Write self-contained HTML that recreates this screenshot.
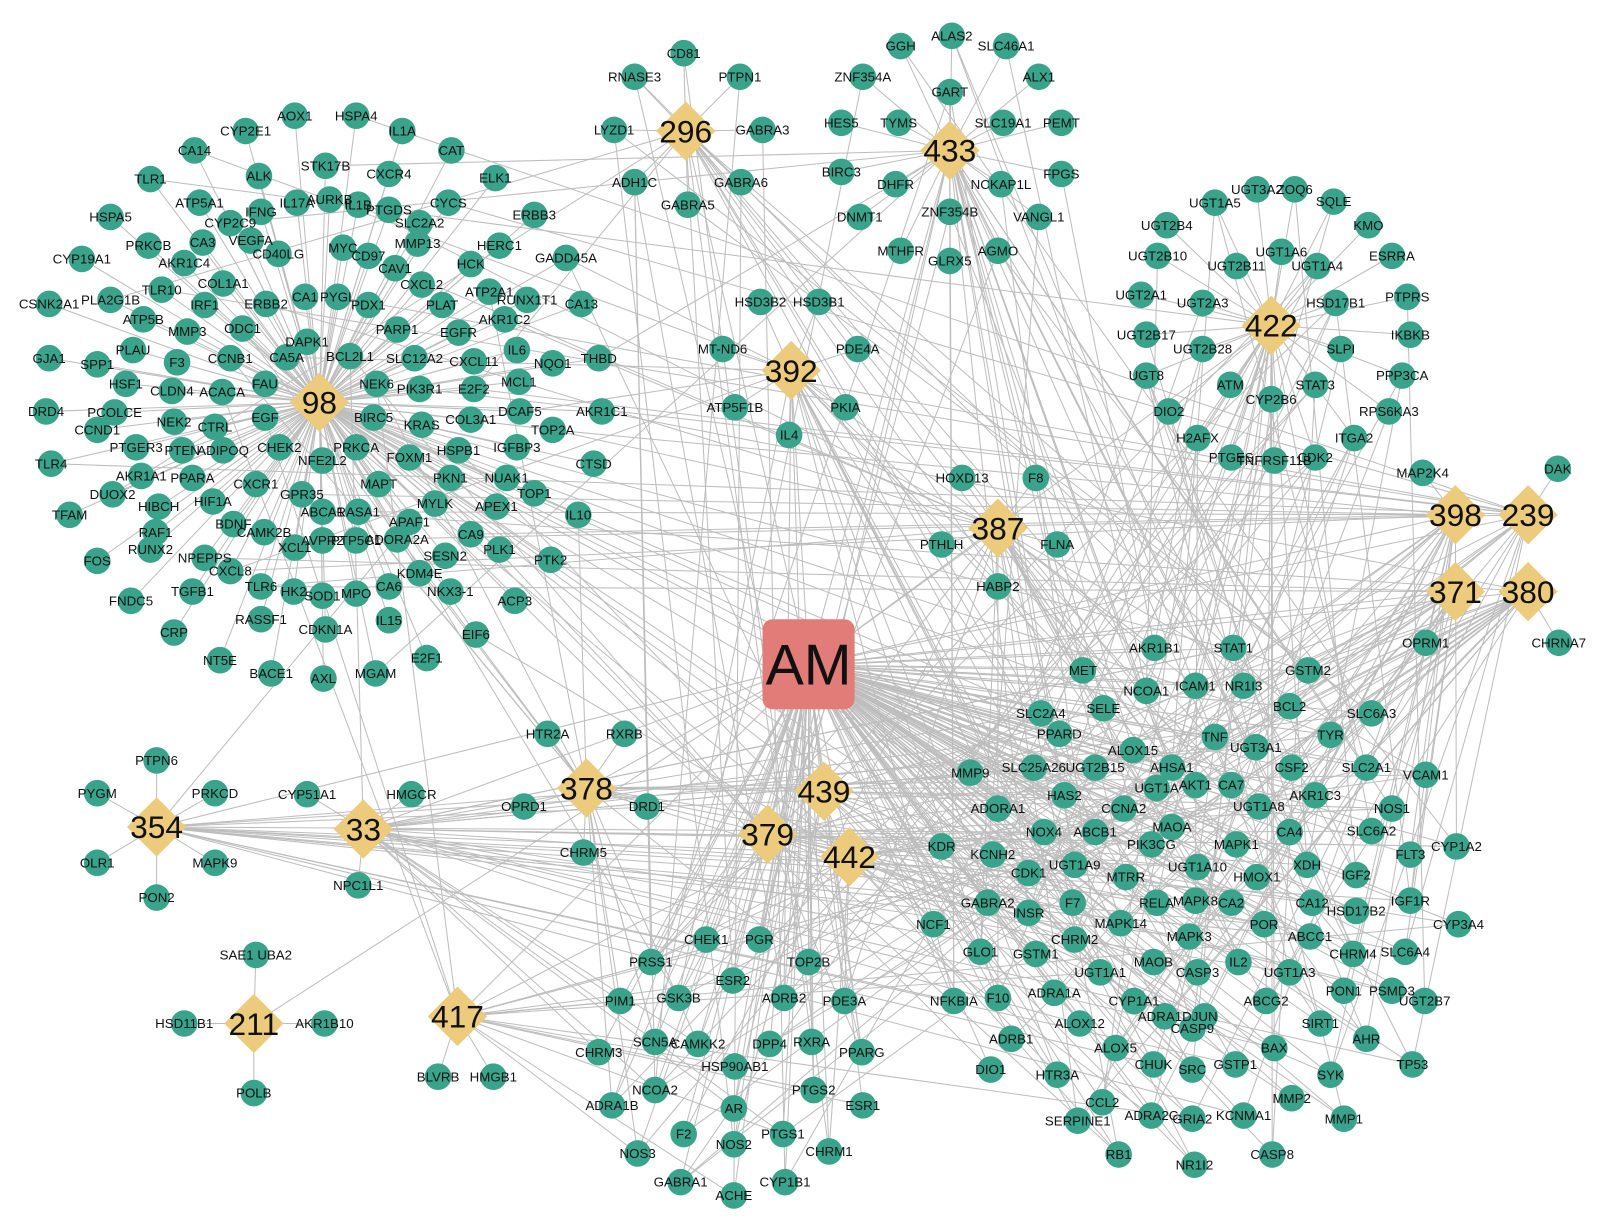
<!DOCTYPE html>
<html><head><meta charset="utf-8">
<style>
html,body{margin:0;padding:0;background:#fff;}
svg{display:block;}
text{font-family:"Liberation Sans",Arial,sans-serif;fill:#111;}
</style></head>
<body>
<svg id="s" width="1603" height="1227" viewBox="0 0 1603 1227" xmlns="http://www.w3.org/2000/svg">
<g transform="scale(1.0235)">
<g id="edges" stroke="#bdbdbd" stroke-width="1" fill="none"></g>
<g id="nodes"></g>
</g>
</svg>
<script>
const hubs={
"98":[312,393],"296":[670,128],"433":[928,147],"392":[773,362],"422":[1242,318],"387":[975,516],
"398":[1422,503],"239":[1493,503],"371":[1422,578],"380":[1493,578],"354":[153,808],"33":[355,810],
"211":[248,1000],"417":[447,993],"378":[573,770],"439":[805,773],"379":[750,815],"442":[830,837]};
const AM=[790,650];
const groups={
"98":`HSPA4 348 113;AOX1 288 113;CYP2E1 240 128;IL1A 393 128;CAT 441 147;CA14 190 147;STK17B 318 162;CXCR4 380 170;ALK 253 172;ELK1 484 174;TLR1 147 175;IL17A 290 198;AURKB 322 195;IL1B 350 200;PTGDS 380 205;CYCS 438 198;ATP5A1 195 198;IFNG 255 207;CYP2C9 225 218;SLC2A2 410 218;ERBB3 522 210;HSPA5 108 212;CA3 198 237;VEGFA 245 235;MMP13 408 238;HERC1 488 240;PRKCB 145 240;CD40LG 272 248;MYC 335 242;CD97 360 250;CAV1 386 262;GADD45A 553 252;CYP19A1 80 253;AKR1C4 180 257;HCK 460 258;CXCL2 412 278;COL1A1 218 277;TLR10 158 283;PYGL 330 290;CA1 298 290;PDX1 360 298;ATP2A1 478 285;RUNX1T1 515 293;CA13 568 297;CSNK2A1 48 297;PLA2G1B 108 293;ATP5B 140 312;IRF1 200 298;ERBB2 260 297;PLAT 432 298;AKR1C2 493 312;PARP1 388 322;MMP3 183 324;ODC1 237 321;EGFR 448 325;GJA1 48 350;SPP1 95 356;PLAU 130 342;DAPK1 300 334;CCNB1 225 350;CA5A 280 349;BCL2L1 342 348;SLC12A2 405 350;CXCL11 463 353;IL6 505 342;NQO1 540 355;THBD 585 350;F3 173 354;HSF1 123 375;NEK6 368 375;MCL1 507 373;CLDN4 168 382;ACACA 217 383;FAU 259 375;PIK3R1 410 380;E2F2 463 380;DRD4 45 402;PCOLCE 112 403;EGF 259 408;BIRC5 365 408;DCAF5 508 402;AKR1C1 588 402;CCND1 95 420;NEK2 170 412;CTRL 210 417;KRAS 412 415;COL3A1 460 410;TOP2A 540 420;PTGER3 133 437;PTEN 178 440;ADIPOQ 218 440;CHEK2 273 437;PRKCA 348 437;HSPB1 448 440;IGFBP3 505 437;TLR4 50 453;NFE2L2 315 450;FOXM1 400 447;CTSD 580 453;AKR1A1 138 465;PPARA 188 467;CXCR1 250 473;MAPT 370 473;PKN1 440 467;NUAK1 495 467;DUOX2 110 483;GPR35 295 483;HIF1A 208 490;RASA1 350 500;MYLK 425 492;APEX1 485 495;TOP1 522 482;TFAM 68 503;HIBCH 155 495;ABCA1 315 500;APAF1 400 510;IL10 565 503;RAF1 152 520;BDNF 228 512;CAMK2B 258 520;AVPR2 315 528;XCL1 288 535;PTP5C1 348 528;ADORA2A 388 527;CA9 460 522;PLK1 488 537;FOS 95 548;RUNX2 147 537;NPEPPS 200 545;SESN2 435 543;PTK2 538 547;CXCL8 225 558;TLR6 255 573;HK2 287 578;SOD1 315 582;MPO 348 580;KDM4E 410 560;CA6 380 573;NKX3-1 440 578;ACP3 503 587;FNDC5 128 587;TGFB1 188 578;EIF6 465 620;IL15 380 606;RASSF1 255 605;CDKN1A 318 615;CRP 170 618;NT5E 215 645;BACE1 265 658;AXL 316 663;MGAM 367 658;E2F1 417 643`,
"296":`CD81 668 52;RNASE3 620 75;PTPN1 723 75;LYZD1 600 127;GABRA3 745 127;ADH1C 620 178;GABRA6 724 178;GABRA5 672 200`,
"433":`ALAS2 930 35;GGH 880 45;SLC46A1 983 45;ZNF354A 843 75;ALX1 1015 75;GART 928 90;HES5 822 120;TYMS 878 120;SLC19A1 980 120;PEMT 1037 120;BIRC3 822 168;DHFR 875 180;NCKAP1L 978 180;FPGS 1037 170;DNMT1 840 212;ZNF354B 928 207;VANGL1 1015 212;MTHFR 880 245;GLRX5 928 255;AGMO 975 245`,
"392":`HSD3B2 743 295;HSD3B1 800 295;MT-ND6 706 341;PDE4A 838 341;ATP5F1B 718 398;PKIA 826 398;IL4 771 425`,
"422":`UGT3A2 1228 185;ZOQ6 1265 185;UGT1A5 1187 198;SQLE 1303 197;UGT2B4 1140 220;KMO 1337 220;UGT2B10 1131 250;UGT1A6 1252 246;UGT2B11 1208 260;UGT1A4 1287 260;ESRRA 1360 250;UGT2A1 1115 288;UGT2A3 1175 296;HSD17B1 1305 296;PTPRS 1375 290;UGT2B17 1120 327;IKBKB 1378 327;UGT2B28 1175 341;SLPI 1310 341;UGT8 1120 367;ATM 1202 376;STAT3 1285 376;PPP3CA 1370 367;DIO2 1142 402;CYP2B6 1242 390;RPS6KA3 1357 402;ITGA2 1323 428;H2AFX 1170 428;PTGES 1203 447;TNFRSF11B 1245 450;CDK2 1285 447`,
"387":`HOXD13 940 467;F8 1012 467;PTHLH 920 532;FLNA 1033 532;HABP2 975 573`,
"398":`MAP2K4 1390 462`,"239":`DAK 1522 458`,"371":`OPRM1 1393 628`,"380":`CHRNA7 1523 628`,
"354":`PTPN6 153 743;PYGM 95 775;PRKCD 210 775;OLR1 95 843;MAPK9 210 843;PON2 153 877`,
"33":`CYP51A1 300 776;HMGCR 402 776;NPC1L1 350 865`,
"211":`SAE1 UBA2 250 933;HSD11B1 180 1000;AKR1B10 317 1000;POLB 248 1068`,
"417":`BLVRB 428 1052;HMGB1 482 1052`,
"378":`HTR2A 535 717;RXRB 610 717;OPRD1 512 788;DRD1 632 788;CHRM5 570 833`};
const other=`CHEK1 690 918;PGR 742 918;TOP2B 790 940;PRSS1 636 940;ESR2 716 958;GSK3B 663 975;ADRB2 766 975;PDE3A 825 978;PIM1 606 978;SCN5A 640 1018;CAMKK2 682 1020;DPP4 752 1020;RXRA 793 1018;PPARG 842 1028;CHRM3 585 1028;HSP90AB1 718 1042;NCOA2 640 1065;PTGS2 795 1065;ESR1 843 1080;ADRA1B 598 1080;AR 717 1083;F2 668 1108;NOS2 717 1118;PTGS1 765 1108;CHRM1 810 1125;NOS3 623 1127;GABRA1 665 1155;ACHE 717 1168;CYP1B1 767 1155;MET 1058 655;AKR1B1 1128 633;STAT1 1205 633;GSTM2 1278 655;NCOA1 1120 675;ICAM1 1168 670;NR1I3 1215 670;BCL2 1260 690;SLC2A4 1017 697;SELE 1078 692;SLC6A3 1340 697;PPARD 1035 717;ALOX15 1107 733;AHSA1 1145 750;TNF 1187 720;TYR 1300 718;UGT3A1 1227 730;MMP9 948 755;SLC25A26 1010 750;UGT2B15 1070 750;CSF2 1262 750;SLC2A1 1335 750;VCAM1 1393 757;HAS2 1040 777;UGT1A 1130 770;AKT1 1168 767;CA7 1203 767;AKR1C3 1285 777;NOS1 1360 790;ADORA1 975 790;CCNA2 1098 790;UGT1A8 1230 788;ABCB1 1070 813;MAOA 1145 808;CA4 1260 813;SLC6A2 1340 812;CYP1A2 1423 827;NOX4 1020 813;PIK3CG 1125 825;MAPK1 1208 825;KDR 920 827;KCNH2 970 835;MTRR 1100 857;UGT1A9 1050 845;UGT1A10 1170 847;HMOX1 1228 857;XDH 1277 845;FLT3 1378 835;CDK1 1005 853;IGF2 1325 855;RELA 1130 882;MAPK8 1168 880;CA2 1203 882;CA12 1282 882;HSD17B2 1325 890;F7 1048 882;INSR 1005 892;GABRA2 965 882;IGF1R 1378 880;CYP3A4 1425 903;NCF1 912 903;MAPK14 1095 902;POR 1235 903;ABCC1 1280 915;CHRM2 1050 918;MAPK3 1162 915;CHRM4 1322 932;GSTM1 1012 932;GLO1 958 930;MAOB 1127 940;CASP3 1170 950;IL2 1210 940;UGT1A3 1260 950;SLC6A4 1373 930;PSMD3 1360 968;UGT1A1 1075 950;PON1 1313 968;NFKBIA 932 978;F10 975 975;ADRA1A 1030 970;CYP1A1 1108 978;ADRA1D 1138 993;JUN 1177 993;ABCG2 1237 978;SIRT1 1290 1000;UGT2B7 1392 978;CASP9 1165 1005;AHR 1335 1015;ALOX12 1055 1000;ADRB1 988 1015;ALOX5 1090 1024;BAX 1245 1024;SYK 1300 1050;TP53 1380 1040;CHUK 1127 1040;SRC 1165 1045;GSTP1 1207 1040;DIO1 968 1045;HTR3A 1033 1050;MMP2 1262 1073;MMP1 1313 1093;CCL2 1077 1077;ADRA2C 1125 1090;GRIA2 1165 1093;KCNMA1 1215 1090;SERPINE1 1053 1095;CASP8 1243 1128;RB1 1093 1128;NR1I2 1167 1138`;
function parse(s){return s.split(";").map(t=>{const p=t.trim().split(" ");const y=+p.pop(),x=+p.pop();return [p.join(" "),x,y];});}
const E=document.getElementById("edges"),N=document.getElementById("nodes");
const NS="http://www.w3.org/2000/svg";
function el(tag,attrs,parent,txt){const e=document.createElementNS(NS,tag);for(const k in attrs)e.setAttribute(k,attrs[k]);if(txt!==undefined)e.textContent=txt;parent.appendChild(e);return e;}
function line(a,b){el("line",{x1:a[0],y1:a[1],x2:b[0],y2:b[1]},E);}
let seed=7;function rnd(){seed=(seed*16807)%2147483647;return seed/2147483647;}
const allNodes=[];
for(const h in groups){for(const n of parse(groups[h])){line(hubs[h],[n[1],n[2]]);allNodes.push(n);}}
const oth=parse(other);
const hubKeys=Object.keys(hubs);
for(const h of hubKeys){line(hubs[h],AM);}
const pref=["98","422","392","433","296","378","417","379","439","442","387","371","380","398","239","33","354"];
for(const n of oth){
  line(AM,[n[1],n[2]]);
  const k=1+Math.floor(rnd()*3);
  for(let i=0;i<k;i++){const h=pref[Math.floor(rnd()*pref.length)];line(hubs[h],[n[1],n[2]]);}
  allNodes.push(n);
}
const g98=parse(groups["98"]);
for(let i=0;i<60;i++){const a=g98[Math.floor(rnd()*g98.length)];const h=pref[Math.floor(rnd()*pref.length)];if(h!=="98")line([a[1],a[2]],hubs[h]);}
const g422=parse(groups["422"]);
for(let i=0;i<40;i++){const a=g422[Math.floor(rnd()*g422.length)];const b=oth[Math.floor(rnd()*oth.length)];line([a[1],a[2]],[b[1],b[2]]);}
const g433=parse(groups["433"]);
for(let i=0;i<15;i++){const a=g433[Math.floor(rnd()*g433.length)];const b=oth[Math.floor(rnd()*oth.length)];line([a[1],a[2]],[b[1],b[2]]);}
const g296=parse(groups["296"]);
for(let i=0;i<12;i++){const a=g296[Math.floor(rnd()*g296.length)];const b=oth[Math.floor(rnd()*40)];line([a[1],a[2]],[b[1],b[2]]);}
for(const n of allNodes){
  el("circle",{cx:n[1],cy:n[2],r:13,fill:"#3aa38b"},N);
}
for(const n of allNodes){
  el("text",{x:n[1],y:n[2]+4.5,"font-size":13,"text-anchor":"middle"},N,n[0]);
}
for(const h of hubKeys){
  const [x,y]=hubs[h];const r=29;
  el("polygon",{points:`${x},${y-r} ${x+r},${y} ${x},${y+r} ${x-r},${y}`,fill:"#eccb7c"},N);
  el("text",{x:x,y:y+11,"font-size":31,"text-anchor":"middle"},N,h);
}
el("rect",{x:745,y:605,width:90,height:88,rx:10,fill:"#e27c78"},N);
el("text",{x:790,y:669,"font-size":56,"text-anchor":"middle"},N,"AM");
</script>
</body></html>
